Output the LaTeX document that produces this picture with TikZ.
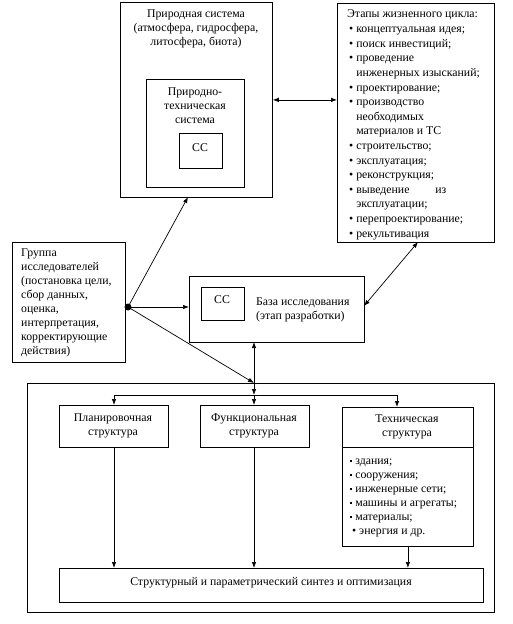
\documentclass[tikz,border=0pt]{standalone}
\usepackage{fontspec}
\setmainfont{Liberation Serif}
\usetikzlibrary{arrows.meta}
\newcommand\sqb{\raisebox{2.5pt}{\rule{2.2pt}{2.2pt}}}
\begin{document}
\begin{tikzpicture}[x=1pt,y=-1pt,
  font=\fontsize{11.8}{14}\selectfont,
  box/.style={draw, line width=0.8pt, inner sep=0, anchor=north west},
  arr/.style={-{Latex[length=6pt,width=4.5pt]}, line width=0.7pt},
  darr/.style={{Latex[length=6pt,width=4.5pt]}-{Latex[length=6pt,width=4.5pt]}, line width=0.7pt},
  txt/.style={inner sep=0, align=center},
  ltxt/.style={inner sep=0, align=left}]
\useasboundingbox (0,0) rectangle (512,624);
% boxes
\node[box, minimum width=152pt, minimum height=195pt] (ps) at (120,2) {};
\node[box, minimum width=98pt, minimum height=108pt] (pts) at (146,79) {};
\node[box, minimum width=43pt, minimum height=35pt] (cc1) at (179,133) {};
\node[box, minimum width=157pt, minimum height=239pt] (lc) at (337,3) {};
\node[box, minimum width=113pt, minimum height=120pt] (grp) at (12,242) {};
\node[box, minimum width=175pt, minimum height=66pt] (base) at (189,276) {};
\node[box, minimum width=43pt, minimum height=33pt] (cc2) at (201,287) {};
\node[box, minimum width=467pt, minimum height=229pt] (big) at (27,383) {};
\node[box, minimum width=109pt, minimum height=42pt] (plan) at (59,405) {};
\node[box, minimum width=109pt, minimum height=42pt] (func) at (200,405) {};
\node[box, minimum width=131pt, minimum height=139pt] (tech) at (342,407) {};
\node[box, minimum width=424pt, minimum height=34pt] (syn) at (59,568) {};
\draw[line width=0.8pt] (tech.west |- 0,447) -- (tech.east |- 0,447);
% texts
\node[txt] (t1) at (196,29) {Природная система\\(атмосфера, гидросфера,\\литосфера, биота)};
\node[txt] (t2) at (195,106) {Природно-\\техническая\\система};
\node[txt] (t3) at (200,148) {СС};
\node[ltxt, anchor=west] (t4h) at (347,15) {Этапы жизненного цикла:};
\node[ltxt, anchor=north west] (t4) at (349,22.3) {\fontsize{11.8}{14.6}\selectfont
\begin{tabular}{@{}l@{\hspace{3pt}}l@{}}
\textbullet & концептуальная идея;\\
\textbullet & поиск инвестиций;\\
\textbullet & проведение\\
 & инженерных изысканий;\\
\textbullet & проектирование;\\
\textbullet & производство\\
 & необходимых\\
 & материалов и ТС\\
\textbullet & строительство;\\
\textbullet & эксплуатация;\\
\textbullet & реконструкция;\\
\textbullet & \makebox[90pt][s]{выведение\hfill из}\\
 & эксплуатации;\\
\textbullet & перепроектирование;\\
\textbullet & рекультивация
\end{tabular}};
\node[ltxt, anchor=west] (t5) at (21,303) {Группа\\исследователей\\(постановка цели,\\сбор данных,\\оценка,\\интерпретация,\\корректирующие\\действия)};
\node[txt] (t6) at (222,300) {СС};
\node[ltxt, anchor=west] (t7) at (256,310) {База исследования\\(этап разработки)};
\node[txt] (t8) at (113,426) {Планировочная\\структура};
\node[txt] (t9) at (254,426) {Функциональная\\структура};
\node[txt] (t10) at (407,427) {Техническая\\структура};
\node[ltxt, anchor=west] (t11) at (350,498) {\sqb\ здания;\\\sqb\ сооружения;\\\sqb\ инженерные сети;\\\sqb\ машины и агрегаты;\\\sqb\ материалы;\\\,\textbullet\ энергия и др.};
\node[txt] (t12) at (271,583) {Структурный и параметрический синтез и оптимизация};
% connectors
\coordinate (dot) at (128,307);
\coordinate (p1) at (188,197);
\coordinate (p2) at (254,383);
\coordinate (q1) at (418,242);
\coordinate (q2) at (364,306);
\coordinate (b1) at (254,342);
\coordinate (d0) at (254,395);
\coordinate (dl) at (114,395);
\coordinate (dr) at (397,395);
\draw[darr] (ps.east) -- (ps.east -| lc.west);
\draw[arr] (dot) -- (p1);
\draw[arr] (dot) -- (dot -| base.west);
\draw[arr] (dot) -- (p2);
\fill (dot) circle (3.5pt);
\draw[darr] (q1) -- (q2);
\draw[darr] (b1) -- (d0);
\draw[line width=0.7pt] (dl) -- (dr);
\draw[arr] (dl) -- (dl |- plan.north);
\draw[arr] (d0) -- (d0 |- func.north);
\draw[arr] (dr) -- (dr |- tech.north);
\draw[arr] (plan.south -| dl) -- (dl |- syn.north);
\draw[arr] (func.south -| d0) -- (d0 |- syn.north);
\draw[arr] (tech.south) -- (tech.south |- syn.north);
\end{tikzpicture}
\end{document}
